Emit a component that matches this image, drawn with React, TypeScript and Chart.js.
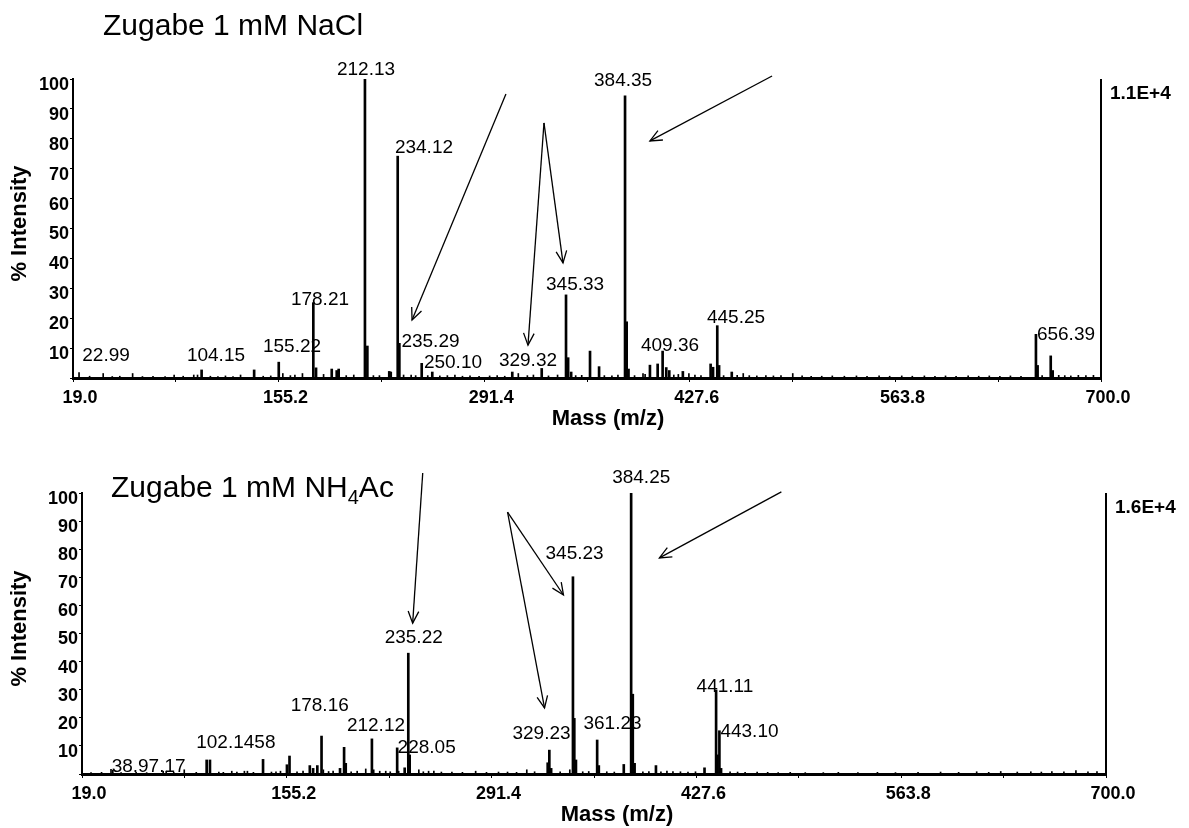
import React, { useEffect, useRef } from 'react';
import { Chart, registerables } from 'chart.js';

Chart.register(...registerables);

const FONT = '"Liberation Sans", Arial, Helvetica, sans-serif';

// ---------- shared axis ticks ----------
const xTickValues = [19.0, 87.1, 155.2, 223.3, 291.4, 359.5, 427.6, 495.7, 563.8, 631.9, 700.0];
const xTickLabels = ['19.0', '', '155.2', '', '291.4', '', '427.6', '', '563.8', '', '700.0'];
const yTickValues = [0, 10, 20, 30, 40, 50, 60, 70, 80, 90, 100];
const yTickLabels = ['', '10', '20', '30', '40', '50', '60', '70', '80', '90', '100'];

// ---------- top spectrum: Zugabe 1 mM NaCl ----------
const naclMz = [
  23.0, 30, 39, 45, 50, 58.5, 65, 72, 80, 86, 92, 99, 101.5, 104.2, 110, 115, 120, 125, 130, 139,
  145, 150, 155.3, 158, 163, 166, 171, 178.2, 180, 185, 190.4, 193.7, 195, 200, 205, 212.4, 214,
  218, 222, 228.5, 229.5, 234.1, 235.2, 238, 243, 246, 250.0, 254, 257, 262, 267, 272, 277, 282,
  288, 295, 300, 305, 310, 314, 320, 324, 329.5, 334, 340, 345.6, 347, 349, 352, 356, 361.5,
  367.5, 371, 376, 380, 384.7, 385.8, 387, 391, 396.6, 398, 401.2, 406.3, 409.6, 412, 414, 417,
  420, 423, 427, 431, 435, 441.4, 443, 445.8, 447, 450, 455.4, 459, 463, 467, 472, 478, 483, 488,
  495.8, 502, 508, 515, 522, 530, 538, 545, 553, 560, 568, 575, 583, 590, 597, 604, 612, 619, 626,
  633, 640, 647, 656.9, 658, 661, 666.7, 668, 672, 676, 680, 685, 690, 695,
];
const naclIntensity = [
  1.8, 0.6, 1.5, 0.5, 0.6, 1.5, 0.5, 0.6, 0.5, 1.0, 0.6, 1.0, 1.0, 2.7, 0.6, 0.5, 0.7, 0.5, 1.0, 2.7,
  0.6, 0.7, 5.3, 1.5, 0.8, 1.0, 1.5, 25.2, 3.4, 1.2, 3.0, 2.5, 3.0, 0.8, 1.0, 100, 10.7,
  0.8, 0.8, 2.2, 2.0, 74.2, 11.6, 1.0, 1.0, 0.8, 4.9, 0.8, 2.0, 0.7, 0.8, 1.0, 0.6, 0.7,
  0.6, 0.7, 0.8, 0.6, 2.0, 1.5, 0.8, 1.0, 3.2, 0.7, 1.0, 27.8, 6.8, 2.0, 0.8, 0.9, 9.0,
  3.8, 0.8, 0.7, 1.0, 94.4, 18.8, 3.0, 0.8, 1.5, 1.2, 4.3, 4.7, 9.0, 3.5, 2.5, 1.0,
  1.2, 2.2, 1.5, 1.0, 0.8, 4.7, 3.6, 17.5, 4.2, 0.8, 2.0, 0.9, 1.5, 0.8, 0.7, 0.8, 0.7, 0.8,
  1.5, 0.7, 0.6, 0.6, 0.7, 0.6, 0.7, 0.6, 0.7, 0.6, 0.7, 0.6, 0.7, 0.6, 0.7, 0.6, 0.7, 0.6, 0.7,
  0.6, 0.7, 0.6, 14.6, 4.2, 0.8, 7.4, 2.5, 0.9, 0.8, 0.7, 0.9, 0.8, 0.9,
];
const naclLabelText = ['22.99', '104.15', '155.22', '178.21', '212.13', '234.12', '235.29', '250.10', '329.32', '345.33', '384.35', '409.36', '445.25', '656.39'];
const naclLabelMz = [40.9, 113.7, 164.1, 182.6, 213.1, 251.5, 255.8, 270.7, 320.4, 351.6, 383.4, 414.5, 458.2, 676.8];
const naclLabelPct = [5.7, 5.7, 8.8, 24.4, 101.3, 75.4, 10.5, 3.2, 4.0, 29.4, 97.7, 9.0, 18.3, 12.7];
// arrows: [fromMz, fromPct, toMz, toPct]
const naclArrows = [
  [305.8, 95.0, 243.6, 19.4],
  [331.0, 85.3, 343.6, 38.5],
  [331.0, 85.3, 320.4, 11.0],
  [482.1, 101.0, 401.2, 79.3],
];

// ---------- bottom spectrum: Zugabe 1 mM NH4Ac ----------
const nh4Mz = [
  25, 32, 38.3, 39.5, 45, 55, 62, 73, 75, 80, 87, 95, 101.9, 104.1, 110, 113, 118.6, 122, 127, 129,
  133, 139.4, 145, 148, 151, 155.3, 157.0, 162, 166, 170.5, 172.7, 175.5, 178.3, 179.5, 183, 186,
  190.6, 193.3, 194.4, 198, 202, 207.7, 211.8, 213, 217, 221, 224, 228.6, 229.6, 233.6, 236.0,
  236.9, 243, 246, 249.5, 253, 258, 265, 272, 280.8, 288, 296, 302, 308, 314.8, 320, 328.7, 329.8,
  331, 337, 343.4, 345.5, 346.4, 347.5, 352, 356, 361.6, 362.7, 368, 373, 379.3, 384.2, 385.3,
  386.5, 392, 396, 400.7, 404, 408, 412, 417, 422, 427, 433, 440.7, 441.6, 442.9, 444, 450, 455,
  460, 468, 475, 482, 490, 500, 512, 522, 535, 548, 560, 575, 590, 602, 614, 622, 630, 641, 650,
  657, 664, 672, 680, 688, 694,
];
const nh4Intensity = [
  0.5, 0.6, 1.7, 1.3, 0.5, 0.6, 0.5, 1.0, 1.0, 0.6, 1.5, 0.6, 5.0, 5.0, 0.7, 0.6, 1.0, 0.7, 1.0, 1.0,
  0.6, 5.2, 0.7, 0.8, 1.0, 3.3, 6.4, 0.8, 1.0, 3.0, 2.0, 3.0, 13.5, 1.5, 0.9, 1.0,
  2.0, 9.5, 3.8, 0.8, 1.0, 1.8, 12.5, 1.5, 1.0, 1.0, 0.8, 9.3, 1.0, 2.2, 43.0,
  6.8, 1.5, 0.8, 1.0, 1.0, 0.7, 0.7, 0.6, 1.0, 0.6, 0.7, 0.7, 0.6, 1.5, 0.8, 4.0, 8.5,
  2.0, 0.8, 1.5, 70.2, 19.8, 5.0, 0.8, 0.9, 12.1, 3.0, 0.8, 0.7, 3.4, 100, 28.4,
  3.8, 0.8, 0.9, 3.0, 0.8, 1.0, 0.9, 0.8, 0.7, 0.8, 2.2, 29.9, 6.8, 15.4, 2.0, 0.8, 0.7,
  0.6, 0.7, 0.6, 0.5, 0.6, 0.5, 0.5, 0.6, 0.5, 0.6, 0.5, 0.6, 0.7, 0.6, 0.8, 0.6, 0.9, 0.7, 0.8,
  0.7, 0.9, 0.8, 1.2, 0.8, 0.9,
];
const nh4LabelText = ['38.97.17', '102.1458', '178.16', '212.12', '228.05', '235.22', '329.23', '345.23', '361.23', '384.25', '441.11', '443.10'];
const nh4LabelMz = [63.3, 121.3, 177.1, 214.5, 248.2, 239.6, 324.6, 346.6, 371.8, 390.9, 446.6, 462.9];
const nh4LabelPct = [0.8, 9.1, 22.5, 15.3, 7.6, 46.5, 12.4, 76.4, 15.9, 103.4, 29.3, 13.3];
const nh4Arrows = [
  [245.6, 107.1, 238.9, 53.7],
  [302.0, 93.2, 339.2, 63.7],
  [302.0, 93.2, 326.6, 23.5],
  [484.1, 100.4, 403.0, 76.9],
];

type Spec = {
  mz: number[];
  intensity: number[];
  labelText: string[];
  labelMz: number[];
  labelPct: number[];
  arrows: number[][];
  title: string;
  titleSub?: string;
  titleTail?: string;
  titleX: number;
  titleY: number;
  scaleLabel: string;
  height: number;
  top: number;
  pad: { left: number; right: number; top: number; bottom: number };
  yWidth: number;
  xHeight: number;
};

function drawArrow(ctx: CanvasRenderingContext2D, x1: number, y1: number, x2: number, y2: number) {
  ctx.beginPath();
  ctx.moveTo(x1, y1);
  ctx.lineTo(x2, y2);
  ctx.stroke();
  const ang = Math.atan2(y2 - y1, x2 - x1);
  const L = 13;
  const a = 0.42;
  ctx.beginPath();
  ctx.moveTo(x2 - L * Math.cos(ang - a), y2 - L * Math.sin(ang - a));
  ctx.lineTo(x2, y2);
  ctx.lineTo(x2 - L * Math.cos(ang + a), y2 - L * Math.sin(ang + a));
  ctx.stroke();
}

function makeDecor(spec: Spec) {
  return {
    id: 'decor',
    afterDraw(chart: any) {
      const { ctx, chartArea, scales } = chart;
      const xs = scales.x;
      const ys = scales.y;
      ctx.save();
      ctx.fillStyle = '#000';
      ctx.strokeStyle = '#000';

      // right frame line
      ctx.lineWidth = 2;
      ctx.beginPath();
      ctx.moveTo(chartArea.right, chartArea.top);
      ctx.lineTo(chartArea.right, chartArea.bottom);
      ctx.stroke();

      // peak labels
      ctx.font = `19px ${FONT}`;
      ctx.textAlign = 'center';
      ctx.textBaseline = 'alphabetic';
      spec.labelText.forEach((t, i) => {
        ctx.fillText(t, xs.getPixelForValue(spec.labelMz[i]), ys.getPixelForValue(spec.labelPct[i]));
      });

      // arrows
      ctx.lineWidth = 1.3;
      spec.arrows.forEach((a) => {
        drawArrow(ctx, xs.getPixelForValue(a[0]), ys.getPixelForValue(a[1]), xs.getPixelForValue(a[2]), ys.getPixelForValue(a[3]));
      });

      // panel title
      ctx.textAlign = 'left';
      ctx.font = `30px ${FONT}`;
      ctx.fillText(spec.title, spec.titleX, spec.titleY);
      if (spec.titleSub) {
        let w = ctx.measureText(spec.title).width;
        ctx.font = `20px ${FONT}`;
        ctx.fillText(spec.titleSub, spec.titleX + w, spec.titleY + 7);
        w += ctx.measureText(spec.titleSub).width;
        ctx.font = `30px ${FONT}`;
        ctx.fillText(spec.titleTail || '', spec.titleX + w, spec.titleY);
      }

      // intensity scale factor
      ctx.font = `bold 19px ${FONT}`;
      ctx.fillText(spec.scaleLabel, chartArea.right + 9, chartArea.top + 20);

      // axis titles
      ctx.font = `bold 22px ${FONT}`;
      ctx.textAlign = 'center';
      ctx.fillText('Mass (m/z)', chartArea.left + 535, chartArea.bottom + 47);
      ctx.save();
      ctx.translate(26, (chartArea.top + chartArea.bottom) / 2 - 5);
      ctx.rotate(-Math.PI / 2);
      ctx.fillText('% Intensity', 0, 0);
      ctx.restore();

      ctx.restore();
    },
  };
}

function buildConfig(spec: Spec): any {
  const major = spec.mz.map((m, i) => ({ x: m, y: spec.intensity[i] })).filter((p) => p.y >= 2);
  const minor = spec.mz.map((m, i) => ({ x: m, y: spec.intensity[i] })).filter((p) => p.y < 2);
  return {
    type: 'bar',
    data: {
      datasets: [
        { data: major, backgroundColor: '#000', borderWidth: 0, barThickness: 2, grouped: false },
        { data: minor, backgroundColor: '#000', borderWidth: 0, barThickness: 1, grouped: false },
      ],
    },
    options: {
      responsive: false,
      animation: false,
      events: [],
      layout: { padding: spec.pad },
      plugins: { legend: { display: false }, tooltip: { enabled: false }, title: { display: false } },
      scales: {
        x: {
          type: 'linear',
          min: 19,
          max: 700,
          offset: false,
          afterBuildTicks: (axis: any) => {
            axis.ticks = xTickValues.map((v) => ({ value: v }));
          },
          afterFit: (axis: any) => {
            axis.height = spec.xHeight;
          },
          ticks: {
            autoSkip: false,
            maxRotation: 0,
            color: '#000',
            padding: 5,
            labelOffset: 7,
            font: { family: FONT, size: 18, weight: 'bold' },
            callback: (_v: any, i: number) => xTickLabels[i],
          },
          grid: { display: true, offset: false, drawOnChartArea: false, drawTicks: true, tickLength: 4, color: '#000', lineWidth: 1 },
          border: { display: true, color: '#000', width: 3 },
        },
        y: {
          min: 0,
          max: 100,
          afterBuildTicks: (axis: any) => {
            axis.ticks = yTickValues.map((v) => ({ value: v }));
          },
          afterFit: (axis: any) => {
            axis.width = spec.yWidth;
          },
          ticks: {
            autoSkip: false,
            color: '#000',
            padding: 1,
            labelOffset: 6,
            font: { family: FONT, size: 18, weight: 'bold' },
            callback: (_v: any, i: number) => yTickLabels[i],
          },
          grid: { display: true, drawOnChartArea: false, drawTicks: true, tickLength: 3, color: '#000', lineWidth: 1 },
          border: { display: true, color: '#000', width: 2 },
        },
      },
    },
    plugins: [makeDecor(spec)],
  };
}

const topSpec: Spec = {
  mz: naclMz,
  intensity: naclIntensity,
  labelText: naclLabelText,
  labelMz: naclLabelMz,
  labelPct: naclLabelPct,
  arrows: naclArrows,
  title: 'Zugabe 1 mM NaCl',
  titleX: 103,
  titleY: 35,
  scaleLabel: '1.1E+4',
  height: 440,
  top: 0,
  pad: { left: 0, right: 88, top: 79, bottom: 0 },
  yWidth: 73,
  xHeight: 62,
};

const bottomSpec: Spec = {
  mz: nh4Mz,
  intensity: nh4Intensity,
  labelText: nh4LabelText,
  labelMz: nh4LabelMz,
  labelPct: nh4LabelPct,
  arrows: nh4Arrows,
  title: 'Zugabe 1 mM NH',
  titleSub: '4',
  titleTail: 'Ac',
  titleX: 111,
  titleY: 57,
  scaleLabel: '1.6E+4',
  height: 388,
  top: 440,
  pad: { left: 0, right: 83, top: 53, bottom: 0 },
  yWidth: 82,
  xHeight: 54,
};

function Spectrum({ spec }: { spec: Spec }) {
  const ref = useRef<HTMLCanvasElement>(null);
  useEffect(() => {
    if (!ref.current) return;
    const chart = new Chart(ref.current, buildConfig(spec));
    return () => chart.destroy();
  }, [spec]);
  return (
    <canvas
      ref={ref}
      width={1189}
      height={spec.height}
      style={{ position: 'absolute', left: 0, top: spec.top, width: 1189, height: spec.height, display: 'block' }}
    />
  );
}

export default function App() {
  return (
    <div style={{ position: 'absolute', left: 0, top: 0, width: 1189, height: 828, overflow: 'hidden', background: '#fff' }}>
      <Spectrum spec={topSpec} />
      <Spectrum spec={bottomSpec} />
    </div>
  );
}
